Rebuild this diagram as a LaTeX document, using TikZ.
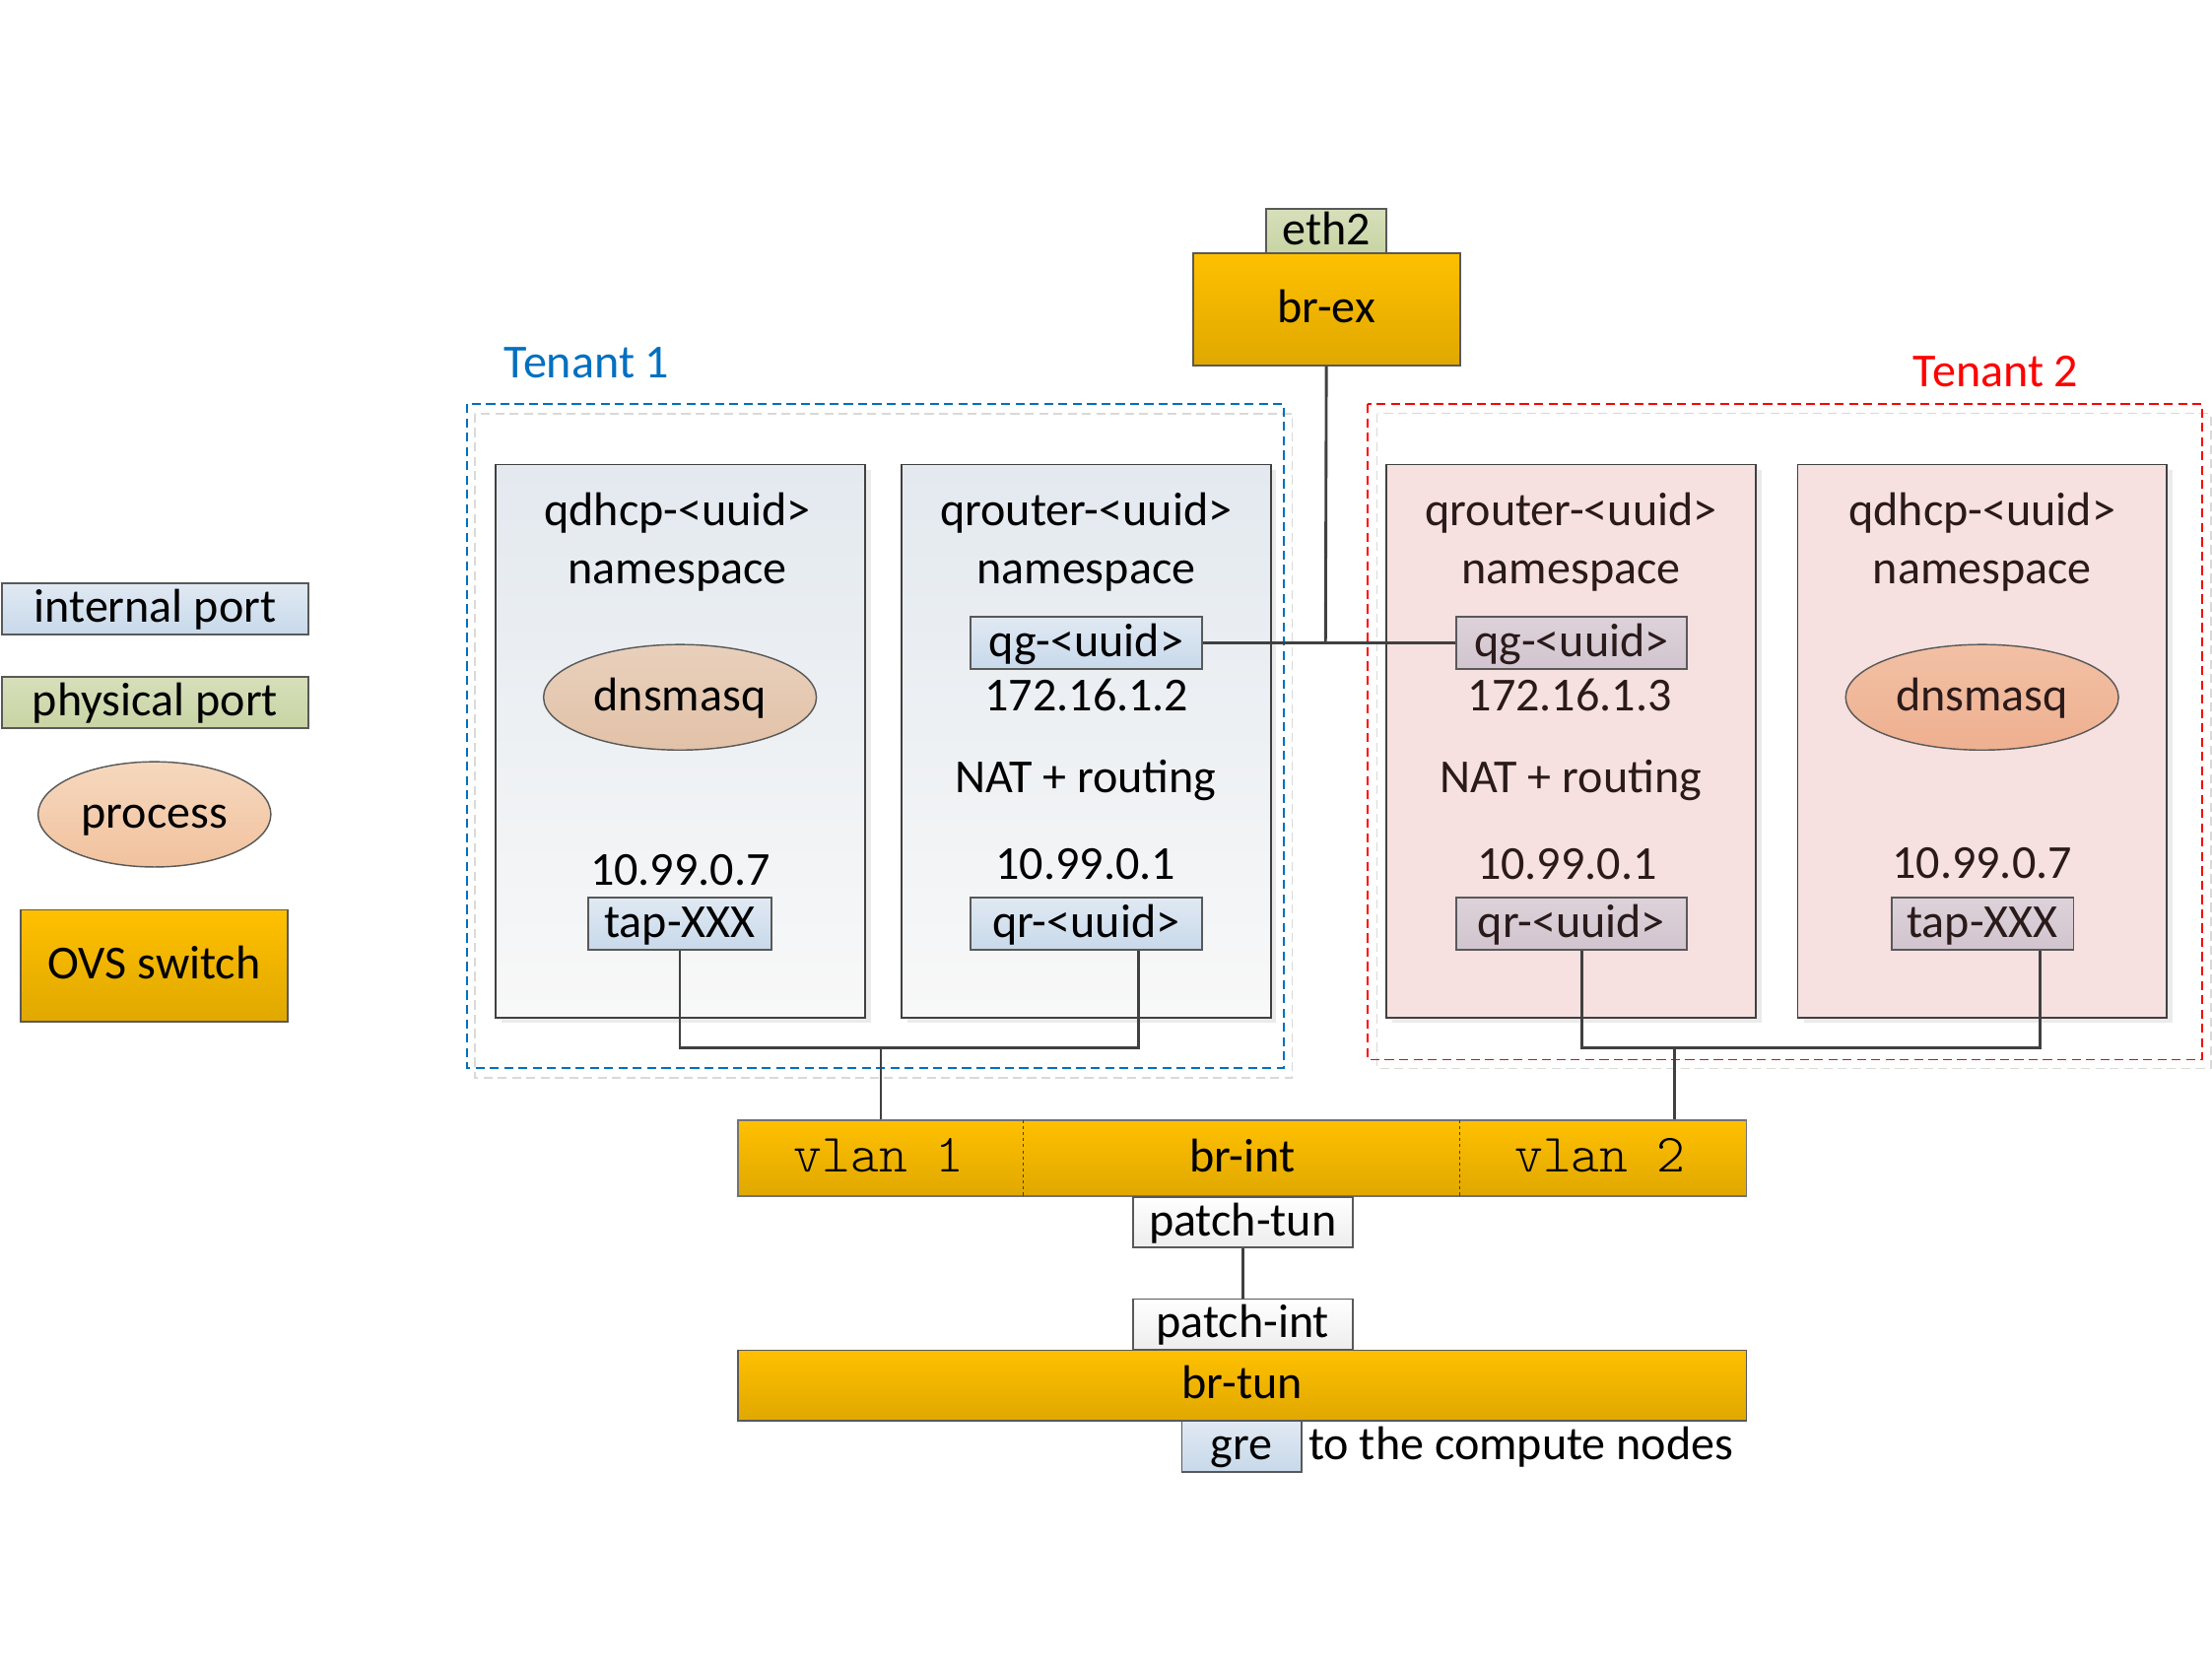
\documentclass[tikz,border=0pt]{standalone}
\usepackage{fontspec}
\setmainfont{Carlito}
\newfontfamily\monofont{Latin Modern Mono Light}
\usetikzlibrary{shapes.geometric,calc}
\def\myu{0.7pt}
\definecolor{ovsT}{HTML}{FFC000}
\definecolor{ovsB}{HTML}{E0A800}
\definecolor{intT}{HTML}{E0E9F3}
\definecolor{intB}{HTML}{C8D9EA}
\definecolor{phyT}{HTML}{D6DFBA}
\definecolor{phyB}{HTML}{C8D4A4}
\definecolor{procT}{HTML}{F6D8BE}
\definecolor{procB}{HTML}{F1C29E}
\definecolor{nsT}{HTML}{E3E9EF}
\definecolor{nsB}{HTML}{F8F8F8}
\definecolor{pinkns}{HTML}{F6E0E0}
\definecolor{tpT}{HTML}{DDD2DA}
\definecolor{tpB}{HTML}{D1C4CE}
\definecolor{dnsAT}{HTML}{E9D0BC}
\definecolor{dnsAB}{HTML}{E2C2A8}
\definecolor{dnsBT}{HTML}{F2C0A5}
\definecolor{dnsBB}{HTML}{EEB090}
\definecolor{tblue}{HTML}{0070C0}
\definecolor{tred}{HTML}{FF0000}
\definecolor{lineC}{HTML}{404040}
\definecolor{bordC}{HTML}{595959}
\definecolor{t2text}{HTML}{2A1A1A}
\tikzset{
  sz/.style 2 args={minimum width=#1*\myu, minimum height=#2*\myu, inner sep=0pt},
  txt/.style={text height=17.6pt, text depth=4.2pt},
  portbox/.style={rectangle, draw=bordC, line width=0.9pt, txt, top color=intT, bottom color=intB},
  tportbox/.style={portbox, top color=tpT, bottom color=tpB, text=t2text},
  physbox/.style={portbox, top color=phyT, bottom color=phyB},
  patchbox/.style={portbox, top color=white, bottom color=black!7},
  ovsbox/.style={rectangle, draw=bordC, line width=0.9pt, txt, top color=ovsT, bottom color=ovsB},
  procell/.style={ellipse, draw=bordC, line width=0.7pt, txt, top color=procT, bottom color=procB},
  nsbox/.style={rectangle, draw=lineC, line width=0.9pt, top color=nsT, bottom color=nsB},
  nspink/.style={rectangle, draw=lineC, line width=0.9pt, fill=pinkns},
  conn/.style={draw=lineC, line width=1.4pt},
  lbl/.style={anchor=base, inner sep=0pt},
  lbltwo/.style={lbl, text=t2text},
  tenbox/.style={line width=0.9pt, dash pattern=on 4.5pt off 2.6pt},
  divline/.style={draw=black!75, line width=0.5pt, dash pattern=on 1.5pt off 1.5pt},
  monolbl/.style={lbl, font=\fontsize{26.8}{30}\monofont},
}
\begin{document}
\begin{tikzpicture}[x=\myu, y=-\myu, font=\fontsize{23.5}{28}\selectfont]
\useasboundingbox (0,0) rectangle (1568,1183.8);
\fill[white] (0,0) rectangle (1568,1183.8);

% ---------- legend ----------
\node[portbox, sz={217.4}{36.3}] (lint) at (110,431.6) {internal port};
\node[physbox, sz={217.4}{36.2}] (lphys) at (110,498) {physical port};
\node[procell, sz={165}{74.6}] (lproc) at (109.5,577.3) {process};
\node[ovsbox, sz={189.3}{79}] (lovs) at (109.3,684.5) {OVS switch};

% ---------- tenant frames ----------
\draw[tenbox, draw=black!15] (336.6,293.3) rectangle (916,764);
\draw[tenbox, draw=tblue] (330.9,286.4) rectangle (910,757);
\draw[tenbox, draw=black!15] (976.1,293) rectangle (1567,757.5);
\draw[tenbox, draw=tred] (969.7,286.4) rectangle (1561,751.2);
\node[lbl, text=tblue] (ten1) at (416,267.5) {Tenant 1};
\node[lbl, text=tred] (ten2) at (1414.8,274.1) {Tenant 2};

% shadows of namespace boxes
\foreach \xa/\xb in {351.6/613.2, 639.3/900.5, 982.9/1244.5, 1274.5/1535.7}
  \fill[black!8] (\xa+4,333.3) rectangle (\xb+4,725.3);

% ---------- namespaces ----------
\node[nsbox, sz={261.6}{392}] (ns1) at (482.4,525.3) {};
\node[nsbox, sz={261.6}{392}] (ns2) at (769.9,525.3) {};
\node[nspink, sz={261.6}{392}] (ns3) at (1113.7,525.3) {};
\node[nspink, sz={261.6}{392}] (ns4) at (1405.1,525.3) {};

\node[lbl] (ns1a) at (480.3,372.8) {qdhcp-<uuid>};
\node[lbl] (ns1b) at (480.3,414) {namespace};
\node[lbl] (ns2a) at (769.9,372.8) {qrouter-<uuid>};
\node[lbl] (ns2b) at (769.9,414) {namespace};
\node[lbltwo] (ns3a) at (1113.7,372.8) {qrouter-<uuid>};
\node[lbltwo] (ns3b) at (1113.7,414) {namespace};
\node[lbltwo] (ns4a) at (1405.1,372.8) {qdhcp-<uuid>};
\node[lbltwo] (ns4b) at (1405.1,414) {namespace};

\node[procell, top color=dnsAT, bottom color=dnsAB, sz={193.4}{74.8}] (dns1) at (482,494.3) {dnsmasq};
\node[procell, top color=dnsBT, bottom color=dnsBB, text=t2text, sz={193.4}{74.8}] (dns2) at (1405,494.3) {dnsmasq};

\node[lbl] (ip1) at (482.2,627.3) {10.99.0.7};
\node[lbl] (ip2) at (770.3,503.9) {172.16.1.2};
\node[lbl] (nat1) at (769.5,562.2) {NAT + routing};
\node[lbl] (ip3) at (769.5,623.2) {10.99.0.1};
\node[lbltwo] (ip4) at (1112.7,503.9) {172.16.1.3};
\node[lbltwo] (nat2) at (1113.5,562.2) {NAT + routing};
\node[lbltwo] (ip5) at (1110.8,623.2) {10.99.0.1};
\node[lbltwo] (ip6) at (1405,622.5) {10.99.0.7};

% ---------- bridges ----------
\node[ovsbox, sz={189.2}{79.6}] (brex) at (940.2,219.1) {br-ex};
\node[physbox, sz={84.8}{30.8}] (eth2) at (940.1,163.9) {eth2};

\node[ovsbox, draw=black!55, sz={715}{54}] (brint) at (880.5,821) {br-int};
\draw[divline] (725.4,794) -- (725.4,848);
\draw[divline] (1035,794) -- (1035,848);
\node[monolbl] (vlan1) at (623,831) {vlan 1};
\node[monolbl] (vlan2) at (1134,831) {vlan 2};

\node[patchbox, sz={155.8}{35.7}] (ptun) at (880.9,866.3) {patch-tun};
\node[patchbox, sz={155.8}{35.7}] (pint) at (880.9,938.7) {patch-int};
\node[ovsbox, sz={715}{49.8}] (brtun) at (880.5,982.1) {br-tun};
\node[portbox, sz={84.8}{36.4}] (gre) at (880.2,1025.2) {gre};
\node[anchor=base west, inner sep=0pt] (tocomp) at (927.3,1034.7) {to the compute nodes};

% ---------- connectors (under the port boxes) ----------
\coordinate (j1) at (624.4,742.6);
\coordinate (j2) at (1187,742.6);
\coordinate (qgj) at (939.6,455.9);
\coordinate (tap1p) at (481.9,673);
\coordinate (qr1p) at (807.1,673);
\coordinate (qr2p) at (1121.3,673);
\coordinate (tap2p) at (1446,673);
\draw[conn] (tap1p) |- (j1) -| (qr1p);
\draw[conn] (qr2p) |- (j2) -| (tap2p);
\draw[conn] (j1) -- (j1 |- brint.north);
\draw[conn] (j2) -- (j2 |- brint.north);
\draw[conn] (787,455.9) -- (1113.9,455.9);
\draw[conn] (brex.south) -- (qgj);
\draw[conn] (ptun.south) -- (pint.north);

% ---------- ports ----------
\node[portbox, sz={129.5}{36.7}] (tap1) at (481.9,654.7) {tap-XXX};
\node[portbox, sz={164}{37.1}] (qg1) at (769.9,455.9) {qg-<uuid>};
\node[portbox, sz={164}{36.7}] (qr1) at (769.9,654.7) {qr-<uuid>};
\node[tportbox, sz={163.7}{37.1}] (qg2) at (1113.9,455.9) {qg-<uuid>};
\node[tportbox, sz={163.7}{36.7}] (qr2) at (1113.9,654.7) {qr-<uuid>};
\node[tportbox, sz={129}{36.7}] (tap2) at (1405.3,654.7) {tap-XXX};
\end{tikzpicture}
\end{document}
